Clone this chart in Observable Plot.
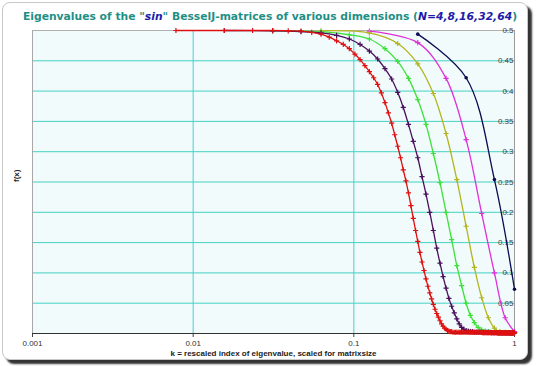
<!DOCTYPE html>
<html><head><meta charset="utf-8">
<script src="https://cdn.jsdelivr.net/npm/d3@7"></script>
<script src="https://cdn.jsdelivr.net/npm/@observablehq/plot@0.6"></script>
<style>
html,body{margin:0;padding:0;background:#fff;}
#wrap{position:relative;width:540px;height:366px;overflow:hidden;background:#fff;}
#frame{position:absolute;left:2px;top:2px;width:524px;height:356px;border:1px solid #c8c8c8;border-radius:8px;box-shadow:4px 4px 2px #333;background:#fff;}
#title{position:absolute;left:0;top:6px;width:540px;height:20px;text-align:center;white-space:nowrap;}
#title span.t{font:bold 12px "DejaVu Sans";color:#1e8f86;}
#title .b{color:#1c1ca8;font-style:italic;}
#chart{position:absolute;left:0;top:24px;}
</style></head><body>
<div id="wrap"><div id="frame"></div><div id="title"><span class="t" id="tt">Eigenvalues of the "<span class="b">sin</span>" BesselJ-matrices of various dimensions (<span class="b">N=4,8,16,32,64</span>)</span></div><div id="chart"></div></div>
<script>
// Series (N = number of eigenvalues, x = k/N)
const seriesNames = ["N=4","N=8","N=16","N=32","N=64","N=128"];
const seriesN = [4, 8, 16, 32, 64, 128];
const seriesColors = ["#0b0b52","#e030d8","#b4b41e","#3ee03a","#4a0f5c","#e01010"];

const valsN4 = [0.494, 0.422, 0.254, 0.073];
const valsN8 = [0.499, 0.480, 0.421, 0.320, 0.198, 0.100, 0.026, 0.003];
const valsN16 = [0.4995, 0.496, 0.4785, 0.445, 0.396, 0.330, 0.254, 0.177,
                 0.109, 0.059, 0.026, 0.009, 0.003, 0.002, 0.001, 0.001];
const valsN32 = [0.4998, 0.498, 0.493, 0.486, 0.470, 0.449, 0.421, 0.386,
                 0.345, 0.297, 0.249, 0.200, 0.155, 0.112, 0.079, 0.050,
                 0.030, 0.018, 0.010, 0.006, 0.004, 0.003, 0.002, 0.002,
                 0.001, 0.001, 0.001, 0.001, 0.001, 0.001, 0.001, 0.001];
const valsN64 = [0.500, 0.4995, 0.498, 0.496, 0.492, 0.486, 0.477, 0.466, 0.453, 0.437,
                 0.420, 0.398, 0.373, 0.345, 0.317, 0.290, 0.259, 0.230, 0.200, 0.170,
                 0.141, 0.116, 0.094, 0.075, 0.058, 0.045, 0.034, 0.024, 0.016, 0.010,
                 0.007, 0.005, 0.004, 0.003, 0.003, 0.002, 0.002, 0.002, 0.002, 0.002,
                 0.002, 0.002, 0.002, 0.002, 0.002, 0.0015, 0.0015, 0.0015, 0.0015, 0.0015,
                 0.001, 0.001, 0.001, 0.001, 0.001, 0.001, 0.001, 0.001, 0.001, 0.001,
                 0.001, 0.001, 0.001, 0.001];
const valsN128 = [0.500, 0.500, 0.500, 0.500, 0.4995, 0.499, 0.497, 0.494, 0.489, 0.483,
                  0.477, 0.470, 0.461, 0.452, 0.442, 0.432, 0.422, 0.411, 0.397, 0.381,
                  0.364, 0.347, 0.328, 0.309, 0.290, 0.270, 0.252, 0.232, 0.211, 0.190,
                  0.170, 0.152, 0.134, 0.118, 0.104, 0.090, 0.078, 0.067, 0.057, 0.048,
                  0.040, 0.033, 0.027, 0.021, 0.016, 0.012, 0.009, 0.007, 0.005, 0.004,
                  0.003, 0.003, 0.002, 0.002, 0.002, 0.002, 0.002, 0.002, 0.002, 0.002,
                  0.002, 0.002, 0.002, 0.002, 0.002, 0.002, 0.002, 0.002, 0.002, 0.002,
                  0.002, 0.002, 0.002, 0.002, 0.002, 0.002, 0.002, 0.002, 0.002, 0.002,
                  0.0015, 0.0015, 0.0015, 0.0015, 0.0015, 0.0015, 0.0015, 0.0015, 0.0015, 0.0015,
                  0.0015, 0.0015, 0.0015, 0.0015, 0.0015, 0.0015, 0.0015, 0.0015, 0.0015, 0.0015,
                  0.001, 0.001, 0.001, 0.001, 0.001, 0.001, 0.001, 0.001, 0.001, 0.001,
                  0.001, 0.001, 0.001, 0.001, 0.001, 0.001, 0.001, 0.001, 0.001, 0.001,
                  0.001, 0.001, 0.001, 0.001, 0.001, 0.001, 0.001, 0.001];

const xTicks = [0.001, 0.01, 0.1, 1];
const xTickLabels = ["0.001", "0.01", "0.1", "1"];
const xGridLines = [0.01, 0.1];
const yTicks = [0, 0.05, 0.1, 0.15, 0.2, 0.25, 0.3, 0.35, 0.4, 0.45, 0.5];
const yTickLabels = ["0", "0.05", "0.1", "0.15", "0.2", "0.25", "0.3", "0.35", "0.4", "0.45", "0.5"];
const yGridLines = [0.05, 0.1, 0.15, 0.2, 0.25, 0.3, 0.35, 0.4, 0.45];
const xTitle = "k = rescaled index of eigenvalue, scaled for matrixsize";
const yTitle = "f(x)";

// fit title to the reference width
const tt = document.getElementById("tt");
const w0 = tt.getBoundingClientRect().width;
tt.style.fontSize = (12 * 494 / w0).toFixed(2) + "px";

const allVals = [valsN4, valsN8, valsN16, valsN32, valsN64, valsN128];
const rows = [];
allVals.forEach((vals, i) => {
  vals.forEach((v, j) => rows.push({s: seriesNames[i], x: (j + 1) / seriesN[i], v}));
});
const dotRows = rows.filter(d => d.s !== "N=4");
const navyRows = rows.filter(d => d.s === "N=4");

const chart = Plot.plot({
  width: 540, height: 342,
  marginTop: 6, marginBottom: 33, marginLeft: 32, marginRight: 26,
  x: {type: "log", domain: [0.001, 1]},
  y: {domain: [0, 0.5]},
  color: {domain: seriesNames, range: seriesColors},
  style: {fontFamily: "'Liberation Sans', Arial, sans-serif", fontSize: "8px", background: "transparent", color: "#333"},
  marks: [
    Plot.frame({fill: "#f1fbfb", stroke: null}),
    Plot.gridY(yGridLines, {stroke: "#45d2c4", strokeOpacity: 1, strokeWidth: 1}),
    Plot.gridX(xGridLines, {stroke: "#45d2d0", strokeOpacity: 1, strokeWidth: 1}),
    Plot.ruleX([0.001], {stroke: "#a8a8a8"}),
    Plot.ruleY([0.5], {stroke: "#b0b0b0"}),
    Plot.ruleX([1], {stroke: "#9a9a9a"}),
    Plot.axisX({ticks: xTicks, tickFormat: d => xTickLabels[xTicks.indexOf(d)], tickSize: 4, tickPadding: 3, label: null, stroke: "#444", fill: "#333"}),
    Plot.axisY({anchor: "right", ticks: yTicks, tickFormat: d => yTickLabels[yTicks.indexOf(d)], tickSize: 3, textAnchor: "end", dx: -10, label: null, stroke: "#888", fill: "#444"}),
    Plot.ruleY([0], {stroke: "#333"}),
    Plot.text([yTitle], {frameAnchor: "left", dx: -16, rotate: -90, fontWeight: "bold", fontSize: 8, fill: "#222"}),
    Plot.text([xTitle], {frameAnchor: "bottom", dy: 22, fontWeight: "bold", fontSize: 8, fill: "#222"}),
    Plot.line(rows, {x: "x", y: "v", z: "s", stroke: "s", curve: "catmull-rom", strokeWidth: 1.3}),
    Plot.dot(dotRows, {x: "x", y: "v", stroke: "s", symbol: "plus", r: 1.8, strokeWidth: 1.2}),
    Plot.dot(navyRows, {x: "x", y: "v", fill: "s", r: 1.8, stroke: null})
  ]
});
document.getElementById("chart").appendChild(chart);
</script>
</body></html>
